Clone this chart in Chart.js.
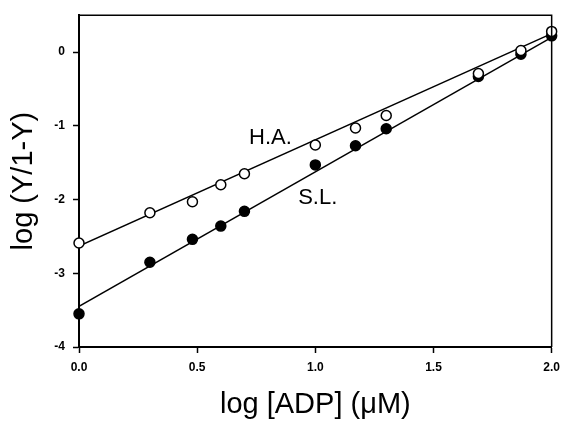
<!DOCTYPE html>
<html>
<head>
<meta charset="utf-8">
<script src="https://cdn.jsdelivr.net/npm/chart.js@4/dist/chart.umd.min.js"></script>
<style>
  html, body { margin: 0; padding: 0; background: #fff; }
  #wrap { width: 567px; height: 422px; }
</style>
</head>
<body>
<div id="wrap"><canvas id="grafica" width="567" height="422"></canvas></div>
<script>
// Datos
const logADP = [0, 0.30, 0.48, 0.60, 0.70, 1.00, 1.17, 1.30, 1.69, 1.87, 2.00];
const haValues = [-2.59, -2.18, -2.03, -1.80, -1.65, -1.26, -1.03, -0.86, -0.29, 0.02, 0.28];
const slValues = [-3.55, -2.85, -2.54, -2.36, -2.16, -1.53, -1.27, -1.04, -0.33, -0.03, 0.22];
// rectas de ajuste (extremos)
const fitX = [0, 2];
const haFit = [-2.63, 0.25];
const slFit = [-3.45, 0.20];
const xTicks = [0, 0.5, 1.0, 1.5, 2.0];
const yTicks = [0, -1, -2, -3, -4];
const labels = [
  { text: 'H.A.', x: 0.81, y: -1.17 },
  { text: 'S.L.', x: 1.01, y: -1.98 }
];

function puntos(xs, ys) {
  return xs.map((x, i) => ({ x: x, y: ys[i] }));
}

// textos, marco y etiquetas
const extras = {
  id: 'extras',
  afterDraw(chart) {
    const ctx = chart.ctx;
    const a = chart.chartArea;
    const sx = chart.scales.x, sy = chart.scales.y;
    ctx.save();
    ctx.strokeStyle = '#000';
    ctx.lineWidth = 1.5;
    ctx.beginPath();
    ctx.moveTo(a.left, a.top);
    ctx.lineTo(a.right, a.top);
    ctx.lineTo(a.right, a.bottom);
    ctx.stroke();

    ctx.fillStyle = '#000';
    ctx.textAlign = 'center';
    ctx.textBaseline = 'middle';
    ctx.font = '22px "Liberation Sans", Arial, sans-serif';
    labels.forEach(l => {
      ctx.fillText(l.text, sx.getPixelForValue(l.x), sy.getPixelForValue(l.y));
    });

    ctx.font = '29px "Liberation Sans", Arial, sans-serif';
    ctx.fillText('log [ADP] (\u03bcM)', (a.left + a.right) / 2, 405);
    ctx.translate(24, (a.top + a.bottom) / 2);
    ctx.rotate(-Math.PI / 2);
    ctx.fillText('log (Y/1-Y)', 0, 0);
    ctx.restore();
  }
};

const ctx = document.getElementById('grafica').getContext('2d');
new Chart(ctx, {
  type: 'scatter',
  data: {
    datasets: [
      {
        label: 'H.A.',
        data: puntos(logADP, haValues),
        pointRadius: 5,
        pointBorderWidth: 1.5,
        backgroundColor: '#fff',
        borderColor: '#000',
        clip: false,
        order: 0
      },
      {
        label: 'S.L.',
        data: puntos(logADP, slValues),
        pointRadius: 5,
        pointBorderWidth: 1.5,
        backgroundColor: '#000',
        borderColor: '#000',
        clip: false,
        order: 0
      },
      {
        label: 'H.A. ajuste',
        data: puntos(fitX, haFit),
        showLine: true,
        pointRadius: 0,
        borderColor: '#000',
        borderWidth: 1.5,
        order: 1
      },
      {
        label: 'S.L. ajuste',
        data: puntos(fitX, slFit),
        showLine: true,
        pointRadius: 0,
        borderColor: '#000',
        borderWidth: 1.5,
        order: 1
      }
    ]
  },
  options: {
    responsive: false,
    animation: false,
    layout: { padding: { top: 13, right: 10, left: 0, bottom: 0 } },
    plugins: { legend: { display: false }, tooltip: { enabled: false } },
    scales: {
      x: {
        type: 'linear',
        min: 0,
        max: 2,
        afterFit(s) { s.height = 75; },
        afterBuildTicks(s) { s.ticks = xTicks.map(v => ({ value: v })); },
        border: { display: true, color: '#000', width: 2 },
        grid: { drawOnChartArea: false, color: '#000', tickLength: 6, tickWidth: 1.5 },
        ticks: {
          color: '#000',
          padding: 7,
          maxRotation: 0,
          font: { size: 12, weight: 'bold', family: '"Liberation Sans", Arial, sans-serif' },
          callback: v => v.toFixed(1)
        }
      },
      y: {
        type: 'linear',
        min: -4,
        max: 0.5,
        afterFit(s) { s.width = 79; },
        afterBuildTicks(s) { s.ticks = yTicks.map(v => ({ value: v })); },
        border: { display: true, color: '#000', width: 2 },
        grid: { drawOnChartArea: false, color: '#000', tickLength: 6, tickWidth: 1.5 },
        ticks: {
          color: '#000',
          padding: 8,
          font: { size: 12, weight: 'bold', family: '"Liberation Sans", Arial, sans-serif' },
          callback: v => String(v)
        }
      }
    }
  },
  plugins: [extras]
});
</script>
</body>
</html>
